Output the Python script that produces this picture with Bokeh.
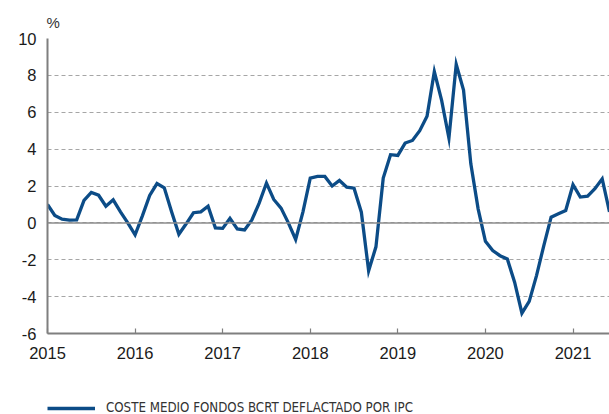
from bokeh.plotting import figure
from bokeh.layouts import column
from bokeh.models import (ColumnDataSource, FixedTicker, Span, Legend, LegendItem,
                          Range1d)
from bokeh.embed import file_html
from bokeh.resources import INLINE

start_year = 2015
values_2015 = [1.0, 0.4, 0.2, 0.15, 0.16, 1.22, 1.65, 1.5, 0.9, 1.25, 0.6, 0.0]
values_2016 = [-0.65, 0.38, 1.49, 2.13, 1.9, 0.6, -0.62, -0.05, 0.55, 0.6, 0.9, -0.27]
values_2017 = [-0.3, 0.25, -0.33, -0.38, 0.16, 1.07, 2.16, 1.27, 0.8, 0.0, -0.9, 0.6]
values_2018 = [2.43, 2.52, 2.52, 2.0, 2.3, 1.94, 1.88, 0.58, -2.6, -1.3, 2.43, 3.7]
values_2019 = [3.66, 4.33, 4.47, 5.0, 5.78, 8.2, 6.64, 4.6, 8.6, 7.2, 3.2, 0.76]
values_2020 = [-1.0, -1.5, -1.78, -1.96, -3.22, -4.9, -4.26, -2.86, -1.23, 0.31, 0.49, 0.67]
values_2021 = [2.07, 1.4, 1.45, 1.85, 2.39, 0.6]

series_name = "COSTE MEDIO FONDOS BCRT DEFLACTADO POR IPC"
unit_label = "%"
year_ticks = [2015, 2016, 2017, 2018, 2019, 2020, 2021]
year_labels = ["2015", "2016", "2017", "2018", "2019", "2020", "2021"]
y_ticks = [-6, -4, -2, 0, 2, 4, 6, 8, 10]
y_labels = ["-6", "-4", "-2", "0", "2", "4", "6", "8", "10"]

values = (values_2015 + values_2016 + values_2017 + values_2018 +
          values_2019 + values_2020 + values_2021)
x = [start_year + i / 12.0 for i in range(len(values))]

src = ColumnDataSource(dict(x=x, y=values))

BLUE = "#0c4c87"
GREY = "#7f7f7f"
FONT = "Liberation Sans"

p = figure(width=609, height=392, output_backend="svg", toolbar_location=None,
           x_range=Range1d(x[0], x[-1]), y_range=Range1d(-6, 10),
           min_border_left=47, min_border_right=0, min_border_top=38,
           min_border_bottom=59)
p.outline_line_color = None
p.background_fill_color = "white"
p.border_fill_color = "white"

p.title.text = unit_label
p.title.align = "left"
p.title.offset = -1
p.title.text_font = FONT
p.title.text_font_size = "15px"
p.title.text_font_style = "normal"
p.title.text_color = "#333333"
p.title.standoff = 16

# grid
p.xgrid.grid_line_color = None
p.ygrid.ticker = FixedTicker(ticks=y_ticks)
p.ygrid.grid_line_color = "#a6a6a6"
p.ygrid.grid_line_dash = "4 3"
p.ygrid.grid_line_width = 1.2

zero = Span(location=0, dimension="width", line_color="#8c8c8c", line_width=1.5)
p.add_layout(zero)

# axes
p.xaxis.ticker = FixedTicker(ticks=year_ticks)
p.xaxis.major_label_overrides = {t: l for t, l in zip(year_ticks, year_labels)}
p.yaxis.ticker = FixedTicker(ticks=y_ticks)
p.yaxis.major_label_overrides = {t: l for t, l in zip(y_ticks, y_labels)}
for ax in (p.xaxis[0], p.yaxis[0]):
    ax.axis_line_color = GREY
    ax.axis_line_width = 2
    ax.major_label_text_font = FONT
    ax.major_label_text_font_size = "16.5px"
    ax.major_label_text_color = "#1a1a1a"
    ax.minor_tick_line_color = None
p.xaxis.major_tick_in = 5
p.xaxis.major_tick_out = 0
p.xaxis.major_tick_line_color = GREY
p.xaxis.major_tick_line_width = 1.2
p.xaxis.major_label_standoff = 13
p.yaxis.major_tick_in = 0
p.yaxis.major_tick_out = 0
p.yaxis.major_label_standoff = 11

line_style = dict(line_color=BLUE, line_width=3.3, line_join="miter")
p.line("x", "y", source=src, **line_style)

# legend strip below the chart (data lies outside its ranges, only the key shows)
p2 = figure(width=609, height=22, output_backend="svg", toolbar_location=None,
            x_range=Range1d(0, 1), y_range=Range1d(0, 1),
            min_border_left=47, min_border_right=0, min_border_top=8,
            min_border_bottom=0)
p2.axis.visible = False
p2.grid.visible = False
p2.outline_line_color = None
r2 = p2.line("x", "y", source=src, **line_style)
legend = Legend(items=[LegendItem(label=series_name, renderers=[r2])],
                location="top_left", padding=0, margin=0, spacing=0,
                border_line_color=None, background_fill_alpha=0,
                glyph_width=48, glyph_height=14, label_height=14,
                label_standoff=11,
                label_text_font="DejaVu Sans Condensed, DejaVu Sans",
                label_text_font_size="13.2px", label_text_color="#333333")
p2.add_layout(legend, "center")

open("out.html", "w").write(file_html(column(p, p2, spacing=0), INLINE))
